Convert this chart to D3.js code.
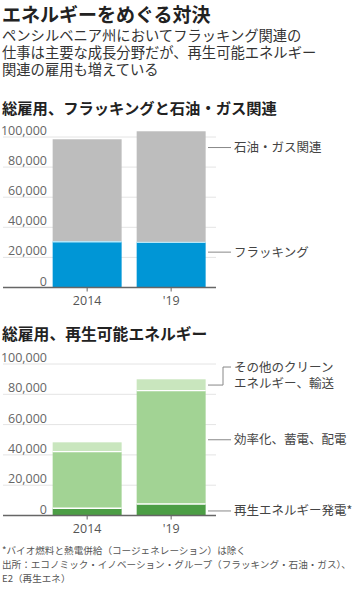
<!DOCTYPE html>
<html><head><meta charset="utf-8">
<script src="https://cdn.jsdelivr.net/npm/d3@7"></script>
<style>
html,body{margin:0;padding:0;background:#fff;}
svg{display:block;font-family:"Noto Sans CJK JP","Noto Sans",sans-serif;}
</style></head>
<body>
<svg id="c" width="360" height="589"></svg>
<script>
// ---- data ----
const years = ["2014", "'19"];
const fracking = [30400, 30000];
const oilGas = [68100, 73800];
const renewGen = [4800, 7600];
const efficiency = [37300, 74800];
const otherClean = [6200, 7500];
const yTicks = [0, 20000, 40000, 60000, 80000, 100000];

const title = "エネルギーをめぐる対決";
const subtitle = ["ペンシルベニア州においてフラッキング関連の", "仕事は主要な成長分野だが、再生可能エネルギー", "関連の雇用も増えている"];
const chart1Title = "総雇用、フラッキングと石油・ガス関連";
const chart2Title = "総雇用、再生可能エネルギー";
const footnotes = ["*バイオ燃料と熱電併給（コージェネレーション）は除く", "出所：エコノミック・イノベーション・グループ（フラッキング・石油・ガス）、", "E2（再生エネ）"];

const svg = d3.select("#c");

// header
svg.append("text").attr("x", 2).attr("y", 21.5).attr("font-size", 19).attr("font-weight", 700).attr("fill", "#222").text(title);
const sub = svg.append("text").attr("x", 2).attr("y", 40.5).attr("font-size", 14.3).attr("fill", "#333");
subtitle.forEach((s, i) => {
  sub.append("tspan").attr("x", 2).attr("dy", i === 0 ? 0 : 17).text(s);
});

function drawChart(cfg) {
  const g = svg.append("g");
  const y = d3.scaleLinear().domain([0, 100000]).range([cfg.y0, cfg.y100]);
  const x = d3.scaleBand().domain(years).range([45.1, 213.2]).paddingInner(0.179).paddingOuter(0.09);

  g.append("text").attr("x", 2).attr("y", cfg.titleY).attr("font-size", cfg.titleSize).attr("font-weight", 700).attr("fill", "#222").text(cfg.title);

  // gridlines
  g.selectAll(".grid").data(yTicks.filter(d => d > 0)).join("line")
    .attr("x1", 3).attr("x2", 216).attr("y1", d => y(d)).attr("y2", d => y(d))
    .attr("stroke", "#e4e4e4").attr("stroke-width", 1);

  // y axis labels
  const ya = g.append("g").attr("transform", "translate(50,0)")
    .call(d3.axisLeft(y).tickValues(yTicks).tickSize(0).tickPadding(3).tickFormat(d3.format(",")));
  ya.select(".domain").remove();
  ya.selectAll("text").attr("dy", -2.5).attr("font-size", 12.5).attr("fill", "#666")
    .attr("font-family", "'Open Sans','Noto Sans',sans-serif");

  // stacked bars
  const stack = d3.stack().keys(cfg.keys.map((k, i) => i))(years.map((yr, j) => cfg.series.map(s => s[j])));
  stack.forEach((layer, li) => {
    g.selectAll(".l" + li).data(layer).join("rect")
      .attr("x", (d, j) => x(years[j])).attr("width", x.bandwidth())
      .attr("y", d => y(d[1])).attr("height", d => y(d[0]) - y(d[1]))
      .attr("fill", cfg.colors[li]);
    if (li > 0) {
      g.selectAll(".s" + li).data(layer).join("line")
        .attr("x1", (d, j) => x(years[j])).attr("x2", (d, j) => x(years[j]) + x.bandwidth())
        .attr("y1", d => y(d[0])).attr("y2", d => y(d[0]))
        .attr("stroke", cfg.sepColor).attr("stroke-width", 1.3);
    }
  });

  // baseline
  g.append("line").attr("x1", 3).attr("x2", 216).attr("y1", y(0)).attr("y2", y(0)).attr("stroke", "#666").attr("stroke-width", 1.3);

  // x axis
  const xa = g.append("g").attr("transform", `translate(0,${y(0)})`)
    .call(d3.axisBottom(x).tickSize(4).tickPadding(5));
  xa.select(".domain").remove();
  xa.selectAll("line").attr("stroke", "#666");
  xa.selectAll("text").attr("font-size", 12.5).attr("fill", "#555")
    .attr("font-family", "'Open Sans','Noto Sans',sans-serif");

  // labels
  cfg.labels.forEach(l => {
    if (l.bracket) {
      const yb = y(l.bracket[0]), yt = y(l.bracket[1]);
      g.append("path").attr("d", `M208,${yb}H223V${yt}H231`).attr("fill", "none").attr("stroke", "#888").attr("stroke-width", 1);
      const bt = g.append("text").attr("x", 234).attr("y", yt + 4.5).attr("font-size", 12.5).attr("fill", "#444");
      l.text.forEach((t, i) => {
        bt.append("tspan").attr("x", 234).attr("dy", i === 0 ? 0 : 16).text(t);
      });
    } else {
      const ly = y(l.v);
      g.append("line").attr("x1", 208).attr("x2", 231).attr("y1", ly).attr("y2", ly).attr("stroke", "#888").attr("stroke-width", 1);
      g.append("text").attr("x", 234).attr("y", ly + 4.5).attr("font-size", 12.5).attr("fill", "#444").text(l.text);
    }
  });
}

drawChart({
  title: chart1Title, titleY: 114, titleSize: 15.3, y0: 287.5, y100: 137,
  keys: ["fracking", "oilGas"], series: [fracking, oilGas],
  colors: ["#0096d6", "#bdbdbd"], sepColor: "#b8e6f7",
  labels: [{ v: 93000, text: "石油・ガス関連" }, { v: 23500, text: "フラッキング" }]
});

drawChart({
  title: chart2Title, titleY: 340, titleSize: 15.8, y0: 515.5, y100: 364,
  keys: ["renewGen", "efficiency", "otherClean"], series: [renewGen, efficiency, otherClean],
  colors: ["#4c9e45", "#a2d394", "#c9e6be"], sepColor: "#ffffff",
  labels: [
    { bracket: [86100, 98000], text: ["その他のクリーン", "エネルギー、輸送"] },
    { v: 50000, text: "効率化、蓄電、配電" },
    { v: 3000, text: "再生エネルギー発電*" }
  ]
});

// footnotes
const fn = svg.append("text").attr("x", 2).attr("y", 553.5).attr("font-size", 9.6).attr("fill", "#555");
footnotes.forEach((f, i) => {
  fn.append("tspan").attr("x", 2).attr("dy", i === 0 ? 0 : 14).text(f);
});
</script>
</body></html>
